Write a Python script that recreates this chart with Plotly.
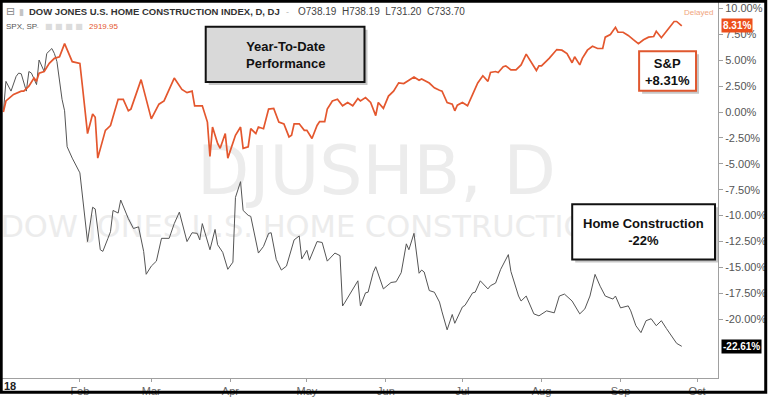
import plotly.graph_objects as go

# ---------------- data ----------------
sp_days = ["01-02","01-03","01-06","01-09","01-10","01-12","01-14","01-15","01-16","01-18",
           "01-20","01-22","01-24","01-26","01-29","02-01","02-02","02-04","02-06","02-07",
           "02-08","02-11","02-13","02-16","02-18","02-20","02-21","02-25","03-01","03-04",
           "03-06","03-10","03-13","03-15","03-17","03-18","03-21","03-23","03-24","03-25",
           "03-27","03-28","03-30","03-31","04-03","04-05","04-06","04-08","04-09","04-11",
           "04-12","04-14","04-16","04-18","04-20","04-22","04-24","04-25","04-26","04-28",
           "04-30","05-01","05-03","05-05","05-06","05-08","05-09","05-11","05-13","05-15",
           "05-17","05-19","05-21","05-22","05-24","05-26","05-28","05-29","05-31","06-02",
           "06-04","06-06","06-08","06-12","06-14","06-15","06-18","06-20","06-22","06-23",
           "06-25","06-27","06-28","06-29","07-01","07-03","07-05","07-07","07-09","07-11",
           "07-12","07-14","07-15","07-17","07-18","07-20","07-22","07-24","07-26","07-27",
           "07-30","07-31","08-01","08-04","08-07","08-09","08-11","08-13","08-14","08-16",
           "08-17","08-19","08-21","08-23","08-25","08-26","08-28","08-30","08-31","09-02",
           "09-04","09-06","09-08","09-10","09-12","09-14","09-15","09-17","09-19","09-20",
           "09-22","09-23","09-25"]
sp_values = [0.00,1.07,1.70,2.02,2.02,2.49,3.28,2.96,3.76,3.91,
             4.70,5.18,5.33,6.60,4.86,4.70,2.49,-2.08,-0.19,-0.50,
             -4.45,-1.77,-1.30,1.23,1.23,0.12,0.28,3.13,-0.66,0.76,
             1.07,3.28,2.18,1.87,2.02,0.60,0.60,-0.97,-4.29,-1.45,
             -3.03,-3.50,-2.08,-4.45,-2.24,-1.45,-3.50,-3.35,-1.61,-2.08,
             -1.45,-1.61,0.28,0.35,-0.97,-1.14,-2.40,-2.24,-1.14,-1.14,
             -1.77,-1.77,-2.56,-1.30,-0.92,-0.92,0.28,1.07,1.23,0.60,
             0.92,0.60,1.30,1.07,1.39,0.92,-0.35,0.92,0.35,1.54,
             2.02,2.81,2.75,3.38,3.06,3.19,2.80,2.34,2.10,2.02,
             0.92,0.76,0.12,0.66,0.92,0.60,1.70,2.81,3.50,2.96,
             3.82,3.91,3.82,4.38,4.45,4.07,4.07,4.55,5.59,5.18,
             4.01,4.45,4.45,5.18,6.03,5.97,5.65,4.76,5.33,4.55,
             5.18,5.97,6.34,6.13,6.13,7.23,7.48,8.17,7.70,7.70,
             7.39,6.98,6.60,6.98,7.23,7.29,7.79,7.17,7.86,8.11,
             8.74,8.74,8.31]

hb_days = ["01-02","01-03","01-05","01-07","01-08","01-09","01-11","01-12","01-13","01-15",
           "01-16","01-18","01-19","01-21","01-22","01-23","01-25","01-26","01-27","01-29",
           "02-01","02-04","02-06","02-07","02-09","02-10","02-12","02-13","02-14","02-16",
           "02-17","02-19","02-20","02-22","02-24","02-26","02-27","03-01","03-03","03-05",
           "03-08","03-10","03-12","03-15","03-17","03-19","03-20","03-21","03-23","03-24",
           "03-26","03-27","03-29","03-31","04-02","04-03","04-05","04-06","04-08","04-09",
           "04-12","04-14","04-16","04-17","04-19","04-21","04-23","04-26","04-28","04-29",
           "05-01","05-02","05-05","05-07","05-09","05-12","05-14","05-15","05-16","05-21",
           "05-22","05-24","05-25","05-27","05-28","05-31","06-03","06-05","06-07","06-09",
           "06-10","06-12","06-14","06-15","06-16","06-18","06-20","06-22","06-23","06-25",
           "06-27","06-28","07-01","07-02","07-05","07-06","07-08","07-11","07-12","07-14",
           "07-16","07-19","07-20","07-23","07-24","07-26","07-29","07-31","08-03","08-06",
           "08-08","08-10","08-13","08-16","08-18","08-20","08-22","08-24","08-26","08-29",
           "08-30","09-01","09-04","09-05","09-07","09-09","09-11","09-13","09-15","09-17",
           "09-19","09-21","09-23","09-25"]
hb_values = [0.00,2.96,2.02,3.44,3.76,3.69,2.02,3.91,3.76,2.65,
             5.02,3.91,5.65,6.13,5.65,4.86,1.23,0.12,-3.35,-4.45,
             -5.87,-12.50,-9.19,-9.35,-13.29,-13.45,-12.19,-11.55,-9.50,-9.75,
             -8.49,-9.75,-10.29,-11.24,-11.08,-13.45,-15.66,-14.87,-14.39,-12.19,
             -12.19,-10.77,-9.66,-12.50,-11.65,-11.71,-12.34,-10.77,-12.50,-13.29,
             -11.33,-12.81,-13.54,-15.18,-14.49,-8.24,-6.72,-9.50,-9.97,-10.07,
             -13.61,-12.97,-11.71,-11.65,-14.23,-15.25,-14.87,-12.34,-11.96,-14.18,
             -13.35,-14.30,-12.50,-12.59,-14.39,-13.61,-13.86,-18.72,-18.34,-16.29,
             -18.72,-17.45,-17.39,-15.50,-14.93,-17.07,-16.45,-16.38,-15.50,-12.72,
             -13.29,-11.71,-15.56,-15.25,-15.44,-17.23,-17.39,-18.34,-19.29,-21.02,
             -19.54,-20.39,-18.81,-18.66,-17.45,-17.39,-16.29,-17.07,-16.76,-16.51,
             -15.18,-13.76,-15.38,-17.76,-18.24,-17.76,-19.48,-19.67,-19.19,-19.38,
             -17.76,-17.57,-18.24,-19.48,-19.00,-17.76,-15.67,-16.81,-17.76,-18.05,
             -17.76,-18.90,-18.71,-19.19,-20.62,-21.29,-20.14,-19.95,-20.62,-20.14,
             -20.90,-21.57,-22.33,-22.61]

month_ticks = ["2018-01-01","2018-02-01","2018-03-01","2018-04-01","2018-05-01",
               "2018-06-01","2018-07-01","2018-08-01","2018-09-01","2018-10-01"]
month_labels = ["", "Feb", "Mar", "Apr", "May", "Jun", "Jul", "Aug", "Sep", "Oct"]
y_ticks = [10, 7.5, 5, 2.5, 0, -2.5, -5, -7.5, -10, -12.5, -15, -17.5, -20]
y_labels = [f"{v:.2f}%" for v in y_ticks]

sp_last = 8.31
hb_last = -22.61

sp_dates = ["2018-" + d for d in sp_days]
hb_dates = ["2018-" + d for d in hb_days]

ORANGE = "#e4572e"
GRAY_LINE = "#555555"

# ---------------- geometry helpers (pixel -> paper) ----------------
W, H = 768, 399
ML, MR, MT, MB = 2, 49, 2, 16
PW, PH = W - ML - MR, H - MT - MB


def px(x):
    return (x - ML) / PW


def py(y):
    return (MT + PH - y) / PH


fig = go.Figure()

# watermark (below the lines)
fig.add_trace(go.Scatter(
    x=["2018-05-28 07:00"], y=[-6.3], mode="text", text=["DJUSHB, D"],
    textfont=dict(family="DejaVu Sans", size=68, color="#ececec"),
    hoverinfo="skip", showlegend=False, cliponaxis=True))
fig.add_trace(go.Scatter(
    x=["2018-05-21 00:00"], y=[-11.3], mode="text",
    text=["DOW JONES U.S. HOME CONSTRUCTION INDEX"],
    textfont=dict(family="DejaVu Sans", size=30.5, color="#ececec"),
    hoverinfo="skip", showlegend=False, cliponaxis=True))

fig.add_trace(go.Scatter(x=hb_dates, y=hb_values, mode="lines",
                         line=dict(color=GRAY_LINE, width=1),
                         name="DJUSHB", showlegend=False))
fig.add_trace(go.Scatter(x=sp_dates, y=sp_values, mode="lines",
                         line=dict(color=ORANGE, width=1.7),
                         name="SPX", showlegend=False))

shapes = []
# outer black frame
shapes.append(dict(type="rect", xref="paper", yref="paper",
                   x0=px(1.2), x1=px(766.8), y0=py(397.5), y1=py(1.2),
                   line=dict(color="black", width=3), fillcolor="rgba(0,0,0,0)", layer="above"))


def box(x0, y0, x1, y1, fill, border):
    shapes.append(dict(type="rect", xref="paper", yref="paper",
                       x0=px(x0 + 3), x1=px(x1 + 3), y0=py(y1 + 3), y1=py(y0 + 3),
                       line=dict(width=0), fillcolor="rgba(0,0,0,0.22)", layer="above"))
    shapes.append(dict(type="rect", xref="paper", yref="paper",
                       x0=px(x0), x1=px(x1), y0=py(y1), y1=py(y0),
                       line=dict(color=border, width=2), fillcolor=fill, layer="above"))


box(206, 27, 365, 83, "#d9d9d9", "#111111")
box(640, 52, 697, 92, "#ffffff", "#e0582f")
box(573, 207, 716, 263, "#ffffff", "#111111")

ann = []
BOXFONT = dict(family="Liberation Sans, Arial", size=13, color="#111111")
ann.append(dict(xref="paper", yref="paper", x=px(285.5), y=py(56), showarrow=False,
                text="<b>Year-To-Date<br>Performance</b>", font=BOXFONT,
                xanchor="center", yanchor="middle"))
ann.append(dict(xref="paper", yref="paper", x=px(668.5), y=py(72.5), showarrow=False,
                text="<b>S&amp;P<br>+8.31%</b>", font=BOXFONT,
                xanchor="center", yanchor="middle"))
ann.append(dict(xref="paper", yref="paper", x=px(644.5), y=py(235.5), showarrow=False,
                text="<b>Home Construction<br>-22%</b>", font=BOXFONT,
                xanchor="center", yanchor="middle"))

# last-value tags on the price scale
ann.append(dict(xref="paper", yref="y", x=px(722), y=sp_last, showarrow=False,
                text="<b>" + f"{sp_last:.2f}%" + "</b>", bgcolor="#ec4f1c",
                font=dict(family="Liberation Sans, Arial", size=10, color="white"),
                xanchor="left", yanchor="middle", borderpad=1))
ann.append(dict(xref="paper", yref="y", x=px(722), y=hb_last, showarrow=False,
                text="<b>" + f"{hb_last:.2f}%" + "</b>", bgcolor="#000000",
                font=dict(family="Liberation Sans, Arial", size=10, color="white"),
                xanchor="left", yanchor="middle", borderpad=1))

# header texts
ann.append(dict(xref="paper", yref="paper", x=px(4), y=py(12), showarrow=False,
                text="⊟", font=dict(family="DejaVu Sans", size=11, color="#8a8a8a"),
                xanchor="left", yanchor="middle"))
ann.append(dict(xref="paper", yref="paper", x=px(17), y=py(12), showarrow=False,
                text="▮", font=dict(family="DejaVu Sans", size=9, color="#c4c4c4"),
                xanchor="left", yanchor="middle"))
ann.append(dict(xref="paper", yref="paper", x=px(27), y=py(12), showarrow=False,
                text="<b>DOW JONES U.S. HOME CONSTRUCTION INDEX, D, DJ</b>",
                font=dict(family="Liberation Sans, Arial", size=9.5, color="#333333"),
                xanchor="left", yanchor="middle"))
ann.append(dict(xref="paper", yref="paper", x=px(284), y=py(12), showarrow=False,
                text="-", font=dict(family="Liberation Sans, Arial", size=9, color="#bbbbbb"),
                xanchor="left", yanchor="middle"))
ann.append(dict(xref="paper", yref="paper", x=px(296), y=py(12), showarrow=False,
                text="O738.19  H738.19  L731.20  C733.70",
                font=dict(family="Liberation Sans, Arial", size=10, color="#444444"),
                xanchor="left", yanchor="middle"))
ann.append(dict(xref="paper", yref="paper", x=px(4), y=py(27), showarrow=False,
                text="SPX, SP", font=dict(family="Liberation Sans, Arial", size=8, color="#555555"),
                xanchor="left", yanchor="middle"))
ann.append(dict(xref="paper", yref="paper", x=px(34), y=py(27), showarrow=False,
                text="-", font=dict(family="Liberation Sans, Arial", size=8, color="#bbbbbb"),
                xanchor="left", yanchor="middle"))
ann.append(dict(xref="paper", yref="paper", x=px(43), y=py(27), showarrow=False,
                text="■ ■ ■ ■", font=dict(family="DejaVu Sans", size=8, color="#dcdcdc"),
                xanchor="left", yanchor="middle"))
ann.append(dict(xref="paper", yref="paper", x=px(87), y=py(27), showarrow=False,
                text="2919.95", font=dict(family="Liberation Sans, Arial", size=8, color="#e4572e"),
                xanchor="left", yanchor="middle"))
ann.append(dict(xref="paper", yref="paper", x=px(716), y=py(13), showarrow=False,
                text="Delayed", font=dict(family="Liberation Sans, Arial", size=8, color="#f0a57e"),
                xanchor="right", yanchor="middle"))
# year label at the start of the time axis
ann.append(dict(xref="paper", yref="paper", x=px(2), y=py(391), showarrow=False,
                text="<b>18</b>", font=dict(family="Liberation Sans, Arial", size=11, color="#222222"),
                xanchor="left", yanchor="middle"))

fig.update_layout(
    width=W, height=H,
    margin=dict(l=ML, r=MR, t=MT, b=MB, pad=0),
    paper_bgcolor="white", plot_bgcolor="white",
    shapes=shapes, annotations=ann, showlegend=False,
    xaxis=dict(type="date", range=["2018-01-01 11:00", "2018-10-09 05:00"],
               tickmode="array", tickvals=month_ticks, ticktext=month_labels,
               showgrid=False, zeroline=False, showline=True, linecolor="#a0a0a0", linewidth=1,
               ticks="outside", ticklen=3, tickcolor="#a0a0a0",
               tickfont=dict(family="Liberation Sans, Arial", size=11, color="#666666"),
               fixedrange=True),
    yaxis=dict(range=[-25.67, 10.62], side="right",
               tickmode="array", tickvals=y_ticks, ticktext=y_labels,
               showgrid=False, zeroline=False, showline=True, linecolor="#a0a0a0", linewidth=1,
               ticks="outside", ticklen=4, tickcolor="#a0a0a0",
               tickfont=dict(family="Liberation Sans, Arial", size=11, color="#555555"),
               fixedrange=True),
)

fig.write_html("out.html",
               config={"displayModeBar": False},
               post_script="document.body.style.margin='0';document.body.style.overflow='hidden';")
